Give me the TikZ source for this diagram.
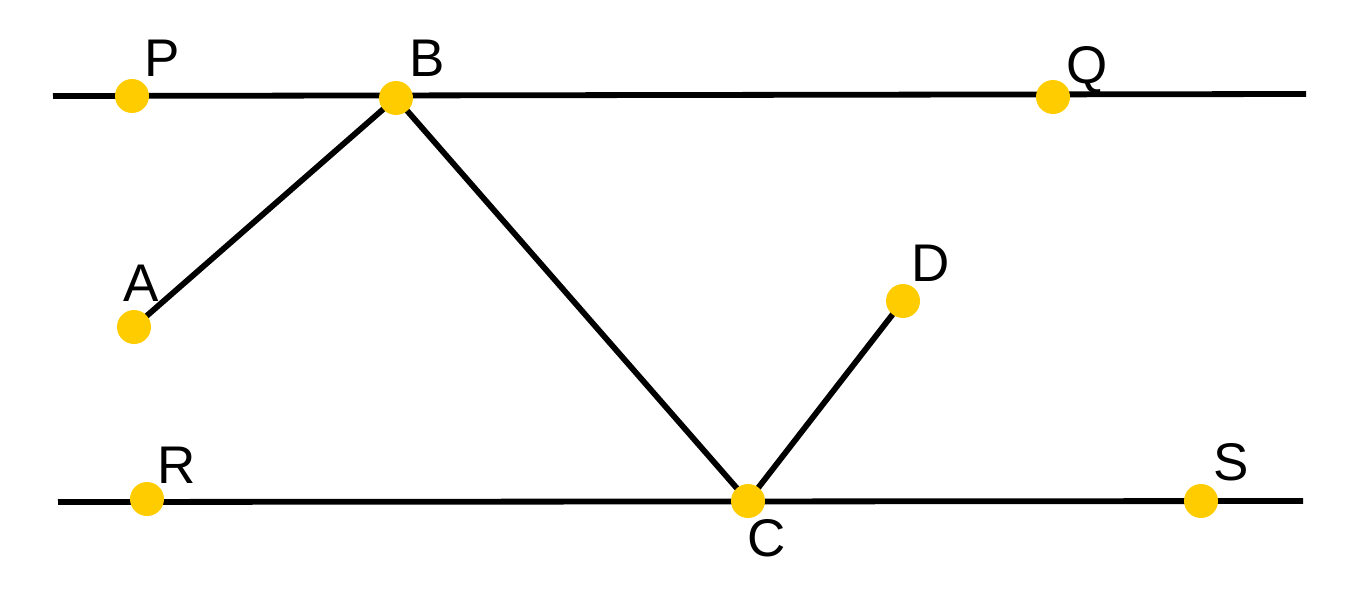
\documentclass[tikz,border=0pt]{standalone}
\usepackage{fontspec}
\setmainfont{Liberation Sans}
\usepackage{tikz}
\definecolor{dotyellow}{RGB}{255,204,0}
\tikzset{
  seg/.style={line width=5.8pt, black},
  dot/.style={circle, fill=dotyellow, inner sep=0pt, minimum size=34pt},
  lbl/.style={anchor=base, inner sep=0pt, font=\fontsize{53}{60}\selectfont}
}

\begin{document}
\begin{tikzpicture}[x=1pt, y=-1pt]
    \useasboundingbox (0,0) rectangle (1362,602);

    % points
    \coordinate (P) at (132,96);
    \coordinate (B) at (396,98);
    \coordinate (Q) at (1053,97);
    \coordinate (A) at (134,327);
    \coordinate (D) at (903,301);
    \coordinate (R) at (147,499);
    \coordinate (C) at (748,501);
    \coordinate (S) at (1201,501);
    \coordinate (top1) at (53,96);
    \coordinate (top2) at (1306,94);
    \coordinate (bot1) at (58,502);
    \coordinate (bot2) at (1303,501);

    % parallel lines
    \draw[seg] (top1) -- (top2);
    \draw[seg] (bot1) -- (bot2);

    % path A-B-C-D
    \draw[seg] (A) -- (B);
    \draw[seg] (B) -- (C);
    \draw[seg] (C) -- (D);

    % dots
    \foreach \p in {P,B,Q,A,D,R,C,S}
        \node[dot] (dot\p) at (\p) {};

    % Label points
    \node[lbl] (lblP) at (162,76) {P};
    \node[lbl] (lblB) at (427,77) {B};
    \node[lbl] (lblQ) at (1087,83) {Q};
    \node[lbl] (lblA) at (141,301) {A};
    \node[lbl] (lblD) at (931,281) {D};
    \node[lbl] (lblR) at (177,483) {R};
    \node[lbl] (lblC) at (767,556) {C};
    \node[lbl] (lblS) at (1231,480) {S};

\end{tikzpicture}
\end{document}
